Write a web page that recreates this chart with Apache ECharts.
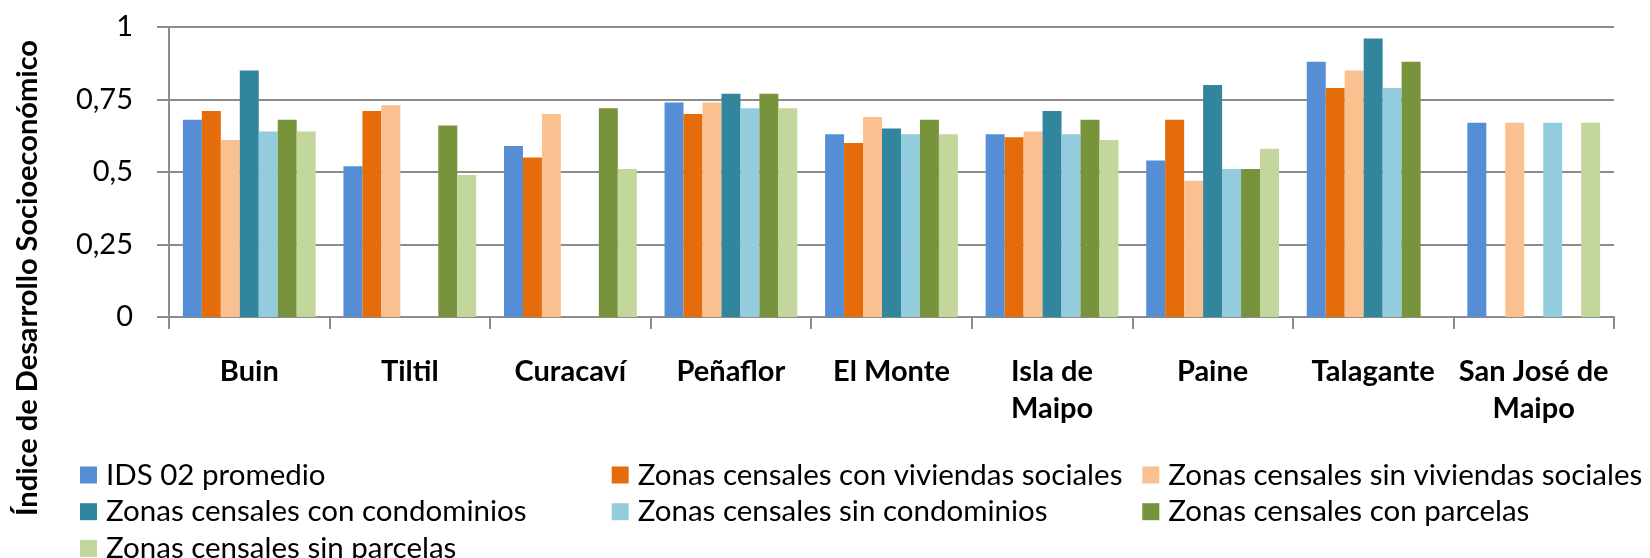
<!DOCTYPE html>
<html>
<head>
<meta charset="utf-8">
<script src="https://cdn.jsdelivr.net/npm/echarts@6/dist/echarts.min.js"></script>
<style>
  html, body { margin: 0; padding: 0; background: #ffffff; }
  #chart { width: 1650px; height: 558px; }
</style>
</head>
<body>
<div id="chart"></div>
<script>
const categories = ['Buin', 'Tiltil', 'Curacaví', 'Peñaflor', 'El Monte', 'Isla de\nMaipo', 'Paine', 'Talagante', 'San José de\nMaipo'];
const seriesNames = [
  'IDS 02 promedio',
  'Zonas censales con viviendas sociales',
  'Zonas censales sin viviendas sociales',
  'Zonas censales con condominios',
  'Zonas censales sin condominios',
  'Zonas censales con parcelas',
  'Zonas censales sin parcelas'
];
const idsPromedio   = [0.68, 0.52, 0.59, 0.74, 0.63, 0.63, 0.54, 0.88, 0.67];
const conViviendas  = [0.71, 0.71, 0.55, 0.70, 0.60, 0.62, 0.68, 0.79, null];
const sinViviendas  = [0.61, 0.73, 0.70, 0.74, 0.69, 0.64, 0.47, 0.85, 0.67];
const conCondominios = [0.85, null, null, 0.77, 0.65, 0.71, 0.80, 0.96, null];
const sinCondominios = [0.64, null, null, 0.72, 0.63, 0.63, 0.51, 0.79, 0.67];
const conParcelas   = [0.68, 0.66, 0.72, 0.77, 0.68, 0.68, 0.51, 0.88, null];
const sinParcelas   = [0.64, 0.49, 0.51, 0.72, 0.63, 0.61, 0.58, null, 0.67];
const yTicks = [0, 0.25, 0.5, 0.75, 1];
const yTitle = 'Índice de Desarrollo Socioeconómico';

const colors = ['#558ED5', '#E46C0A', '#FAC090', '#31859C', '#93CDDD', '#77933C', '#C3D69B'];
const values = [idsPromedio, conViviendas, sinViviendas, conCondominios, sinCondominios, conParcelas, sinParcelas];
const FONT = 'Lato, "Open Sans", sans-serif';

const chart = echarts.init(document.getElementById('chart'), null, { renderer: 'canvas' });

function legendAt(left, top, names) {
  return {
    orient: 'vertical',
    left: left,
    top: top,
    icon: 'rect',
    itemWidth: 17,
    itemHeight: 17,
    itemGap: 6.7,
    selectedMode: false,
    padding: 0,
    textStyle: { fontFamily: FONT, fontSize: 29.5, color: '#000', lineHeight: 30, padding: [0, 0, 0, 4] },
    data: names
  };
}

const option = {
  animation: false,
  backgroundColor: '#ffffff',
  color: colors,
  grid: { left: 169, top: 27, width: 1445, height: 290, containLabel: false },
  xAxis: {
    type: 'category',
    data: categories,
    axisLine: { show: true, lineStyle: { color: '#8c8c8c', width: 2 } },
    axisTick: { show: true, length: 12, lineStyle: { color: '#8c8c8c', width: 2 } },
    axisLabel: {
      interval: 0, margin: 36, color: '#000', fontFamily: FONT, fontWeight: 'bold',
      fontSize: 29, lineHeight: 37
    }
  },
  yAxis: {
    type: 'value',
    min: 0, max: 1, interval: 0.25,
    axisLine: { show: true, lineStyle: { color: '#8c8c8c', width: 2 } },
    axisTick: { show: true, length: 12, lineStyle: { color: '#8c8c8c', width: 2 } },
    splitLine: { show: true, lineStyle: { color: '#8c8c8c', width: 2 } },
    axisLabel: {
      margin: 36, color: '#000', fontFamily: FONT, fontSize: 29,
      formatter: function (v) {
        const t = yTicks.find(function (k) { return Math.abs(k - v) < 1e-9; });
        return String(t !== undefined ? t : v).replace('.', ',');
      }
    }
  },
  legend: [
    legendAt(80, 460, [seriesNames[0], seriesNames[3]]),
    legendAt(80, 533.4, [seriesNames[6]]),
    legendAt(611.7, 460, [seriesNames[1], seriesNames[4]]),
    legendAt(1142.3, 460, [seriesNames[2], seriesNames[5]])
  ],
  graphic: [{
    type: 'text',
    x: 28,
    y: 278,
    rotation: Math.PI / 2,
    style: {
      text: yTitle,
      font: 'bold 29px ' + FONT,
      fill: '#000',
      textAlign: 'center',
      textVerticalAlign: 'middle'
    }
  }],
  series: seriesNames.map(function (name, i) {
    return {
      name: name,
      type: 'bar',
      data: values[i],
      barGap: '0%',
      barCategoryGap: '17.3%',
      itemStyle: { color: colors[i] }
    };
  })
};
chart.setOption(option);
</script>
</body>
</html>
